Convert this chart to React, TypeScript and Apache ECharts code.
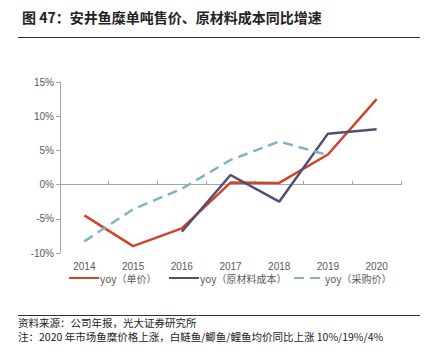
import React, { useEffect, useRef } from "react";
import * as echarts from "echarts";

const years = ["2014", "2015", "2016", "2017", "2018", "2019", "2020"];
const unitPriceYoy = [-4.5, -9.0, -6.4, 0.3, 0.25, 4.4, 12.5];
const rawCostYoy = [null, null, -6.9, 1.4, -2.5, 7.45, 8.1];
const purchasePriceYoy = [-8.3, -3.6, -0.6, 3.6, 6.3, 4.3, null];
const seriesNames = ["yoy（单价）", "yoy（原材料成本）", "yoy（采购价）"];

const FONT = "'Noto Sans CJK SC', 'Liberation Sans', sans-serif";

export default function App() {
  const ref = useRef<HTMLDivElement>(null);
  useEffect(() => {
    if (!ref.current) return;
    const chart = echarts.init(ref.current, null, { renderer: "svg" });
    const legendCommon = {
      top: 268,
      itemWidth: 30,
      itemHeight: 12,
      itemGap: 2,
      itemStyle: { opacity: 0 },
      textStyle: { fontSize: 10, color: "#595959", fontFamily: FONT, padding: [0, 0, 0, -4] },
    };
    chart.setOption({
      animation: false,
      textStyle: { fontFamily: FONT },
      title: {
        text: "图 47：安井鱼糜单吨售价、原材料成本同比增速",
        left: 17,
        top: 5,
        textStyle: { fontSize: 14, fontWeight: "bold", color: "#222", fontFamily: FONT },
      },
      legend: [
        { ...legendCommon, left: 63, data: [seriesNames[0]] },
        { ...legendCommon, left: 163, data: [seriesNames[1]] },
        { ...legendCommon, left: 288, data: [seriesNames[2]] },
      ],
      graphic: [
        { type: "line", shape: { x1: 18, y1: 37.5, x2: 420, y2: 37.5 }, style: { stroke: "#333", lineWidth: 1 } },
        { type: "line", shape: { x1: 18, y1: 315.5, x2: 420, y2: 315.5 }, style: { stroke: "#333", lineWidth: 1 } },
        { type: "text", left: 18, top: 317, style: { text: "资料来源：公司年报，光大证券研究所", fontSize: 10.5, fill: "#222", fontFamily: FONT } },
        { type: "text", left: 18, top: 331, style: { text: "注：2020 年市场鱼糜价格上涨，白鲢鱼/鲫鱼/鲤鱼均价同比上涨 10%/19%/4%", fontSize: 10.5, fill: "#222", fontFamily: FONT } },
      ],
      grid: { left: 60, top: 82, width: 341, height: 171, containLabel: false },
      xAxis: {
        type: "category",
        data: years,
        boundaryGap: true,
        axisLine: { onZero: true, lineStyle: { color: "#a6a6a6", width: 1 } },
        axisTick: { show: true, inside: true, length: 4, lineStyle: { color: "#a6a6a6" } },
        axisLabel: { fontSize: 10, color: "#595959", margin: 8, fontFamily: "'Liberation Sans', sans-serif" },
        splitLine: { show: false },
      },
      yAxis: {
        type: "value",
        min: -10,
        max: 15,
        interval: 5,
        axisLine: { show: true, lineStyle: { color: "#a6a6a6", width: 1 } },
        axisTick: { show: true, inside: false, length: 4, lineStyle: { color: "#a6a6a6" } },
        axisLabel: { fontSize: 10, color: "#595959", margin: 6, formatter: (v: number) => `${v}%`, fontFamily: "'Liberation Sans', sans-serif" },
        splitLine: { show: false },
      },
      series: [
        {
          name: seriesNames[0],
          type: "line",
          data: unitPriceYoy,
          symbol: "none",
          lineStyle: { color: "#d0452a", width: 2.5 },
          itemStyle: { color: "#d0452a" },
        },
        {
          name: seriesNames[1],
          type: "line",
          data: rawCostYoy,
          symbol: "none",
          lineStyle: { color: "#524e73", width: 2.5 },
          itemStyle: { color: "#524e73" },
        },
        {
          name: seriesNames[2],
          type: "line",
          data: purchasePriceYoy,
          symbol: "none",
          lineStyle: { color: "#80b2ca", width: 2.5, type: [10, 6] },
          itemStyle: { color: "#80b2ca" },
        },
      ],
    });
    return () => chart.dispose();
  }, []);
  return (
    <div
      ref={ref}
      style={{ position: "fixed", left: 0, top: 0, width: 425, height: 357, background: "#fff" }}
    />
  );
}
